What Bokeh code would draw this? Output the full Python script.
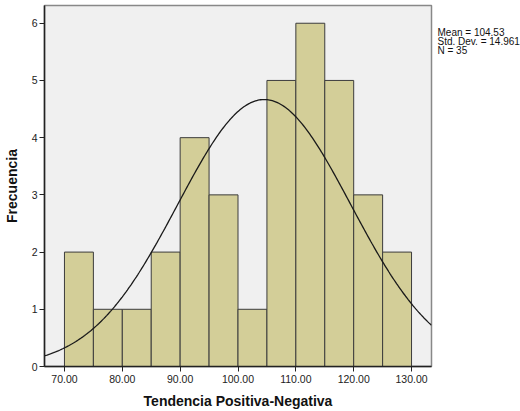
import numpy as np
from bokeh.plotting import figure
from bokeh.layouts import row
from bokeh.models import FixedTicker, NumeralTickFormatter, Range1d
from bokeh.core.properties import value
from bokeh.embed import file_html
from bokeh.resources import INLINE

# Histogram of "Tendencia Positiva-Negativa" (bin width 5)
bin_edges = [70, 75, 80, 85, 90, 95, 100, 105, 110, 115, 120, 125, 130]
counts = [2, 1, 1, 2, 4, 3, 1, 5, 6, 5, 3, 2]
mean = 104.53
std_dev = 14.961
n_obs = 35
x_ticks = [70, 80, 90, 100, 110, 120, 130]
y_ticks = [0, 1, 2, 3, 4, 5, 6]

p = figure(width=433, height=411, output_backend="svg", toolbar_location=None,
           x_range=Range1d(66.55, 133.45), y_range=Range1d(0, 6.31),
           min_border_left=43, min_border_right=2, min_border_top=5, min_border_bottom=44)

p.background_fill_color = "#f0f0f0"
p.border_fill_color = "white"
p.outline_line_color = "#888888"
p.outline_line_width = 1.5
p.grid.visible = False

p.quad(left=bin_edges[:-1], right=bin_edges[1:], bottom=0, top=counts,
       fill_color="#d3ce98", line_color="#3c3c3c", line_width=1)

# Fitted normal curve scaled to counts
xs = np.linspace(66.55, 133.45, 300)
bw = bin_edges[1] - bin_edges[0]
ys = n_obs * bw / (std_dev * np.sqrt(2 * np.pi)) * np.exp(-0.5 * ((xs - mean) / std_dev) ** 2)
p.line(xs, ys, line_color="#1a1a1a", line_width=1.3)

for ax in (p.xaxis, p.yaxis):
    ax.axis_line_color = "#222222"
    ax.axis_line_width = 1.5
    ax.major_tick_line_color = "#222222"
    ax.major_tick_in = 0
    ax.major_tick_out = 5
    ax.minor_tick_line_color = None
    ax.major_label_text_font = "Liberation Sans"
    ax.major_label_text_font_size = "10.5px"
    ax.major_label_text_color = "#222222"
    ax.axis_label_text_font = "Liberation Sans"
    ax.axis_label_text_font_size = "14px"
    ax.axis_label_text_font_style = "bold"
    ax.axis_label_text_color = "#111111"

p.xaxis.ticker = FixedTicker(ticks=x_ticks)
p.xaxis.formatter = NumeralTickFormatter(format="0.00")
p.xaxis.axis_label = "Tendencia Positiva-Negativa"
p.xaxis.major_label_standoff = 3
p.xaxis.axis_label_standoff = 7

p.yaxis.ticker = FixedTicker(ticks=y_ticks)
p.yaxis.axis_label = "Frecuencia"
p.yaxis.major_label_standoff = 2
p.yaxis.axis_label_standoff = 9

# Side panel holding the summary statistics as one multi-line text block
stats = ["Mean = %.2f" % mean, "Std. Dev. = %.3f" % std_dev, "N = %d" % n_obs]
side = figure(width=87, height=411, output_backend="svg", toolbar_location=None,
              x_range=Range1d(0, 87), y_range=Range1d(411, 0),
              x_axis_location=None, y_axis_location=None,
              min_border=0, outline_line_color=None)
side.grid.visible = False
side.text(x=[4], y=[24], text=["\n".join(stats)],
          text_font=value("Liberation Sans"), text_font_size="10px",
          text_line_height=0.86, text_color="#111111", text_baseline="top")

open("out.html", "w").write(file_html(row(p, side), INLINE))
